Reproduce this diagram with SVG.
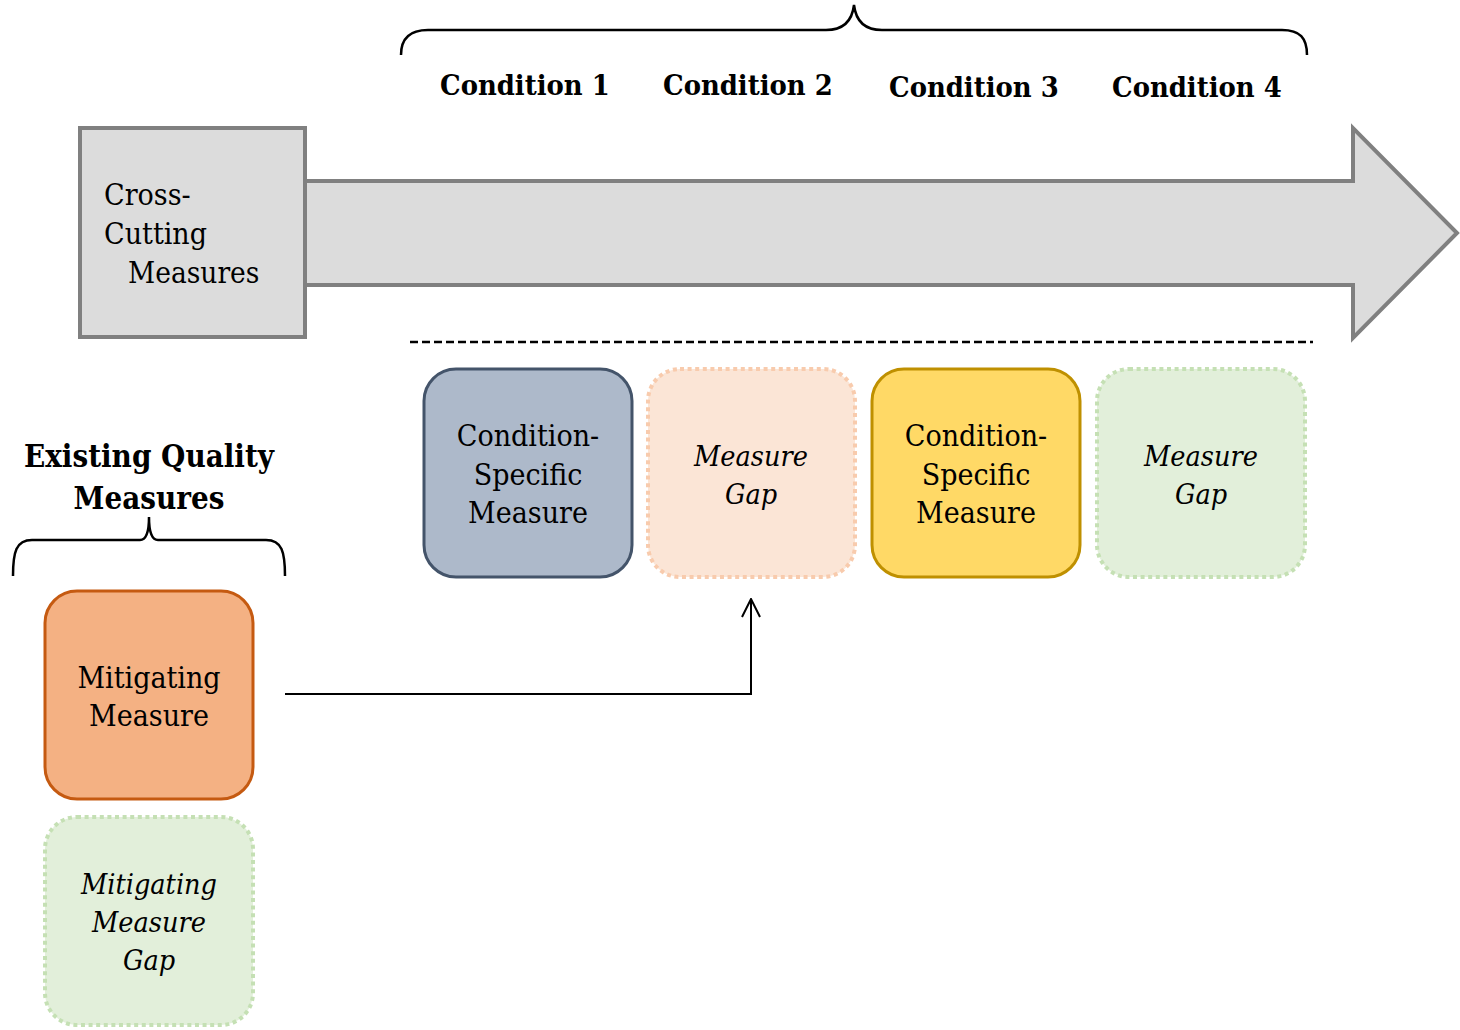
<svg xmlns="http://www.w3.org/2000/svg" width="1460" height="1030" viewBox="0 0 1460 1030">
<style>
.t{font-family:"DejaVu Serif Condensed","DejaVu Serif",serif;font-stretch:condensed;font-size:30px;fill:#000}
.c{text-anchor:middle}
.i{font-style:italic;font-size:28.5px}
.b{font-weight:bold;font-size:28.8px}
.h{font-weight:bold;font-size:31px}
.box{stroke-width:3}
.dot{stroke-width:4;stroke-dasharray:4 3.6}
</style>
<defs>
<marker id="open" viewBox="0 0 20 20" refX="19" refY="10" markerWidth="20" markerHeight="20" markerUnits="userSpaceOnUse" orient="auto">
<path d="M1,1 L19,10 L1,19" fill="none" stroke="#000" stroke-width="2"/>
</marker>
</defs>
<rect width="1460" height="1030" fill="#fff"/>
<g id="top-brace">
<path d="M401,55 C401,38 410,30 428,30 L826,30 C842,30 852,22 854,5 C856,22 866,30 882,30 L1282,30 C1300,30 1307,38 1307,55" fill="none" stroke="#000" stroke-width="2.5"/>
<text class="t b" x="440" y="95">Condition 1</text>
<text class="t b" x="663" y="95">Condition 2</text>
<text class="t b" x="889" y="97">Condition 3</text>
<text class="t b" x="1112" y="97">Condition 4</text>
</g>
<g id="timeline-arrow">
<path d="M305,181 L1353,181 L1353,128 L1457,233 L1353,338 L1353,285 L305,285 Z" fill="#dcdcdc" stroke="#808080" stroke-width="4"/>
</g>
<g id="cross-cutting">
<rect x="80" y="128" width="225" height="209" fill="#dcdcdc" stroke="#808080" stroke-width="4"/>
<text class="t" x="104" y="205">Cross-</text>
<text class="t" x="104" y="244">Cutting</text>
<text class="t" x="128" y="283" style="font-size:29.5px">Measures</text>
</g>
<g id="divider">
<line x1="410" y1="342" x2="1313" y2="342" stroke="#000" stroke-width="2.5" stroke-dasharray="8 4"/>
</g>
<g id="cond1-measure">
<rect class="box" x="424" y="369" width="208" height="208" rx="32" fill="#adb9ca" stroke="#44546a"/>
<text class="t c" x="528" y="446">Condition-</text>
<text class="t c" x="528" y="485">Specific</text>
<text class="t c" x="528" y="523">Measure</text>
</g>
<g id="cond2-gap">
<rect class="dot" x="648" y="369" width="207" height="208" rx="32" fill="#fbe5d6" stroke="#f8cbad"/>
<text class="t c i" x="751" y="466">Measure</text>
<text class="t c i" x="751" y="504">Gap</text>
</g>
<g id="cond3-measure">
<rect class="box" x="872" y="369" width="208" height="208" rx="32" fill="#ffd966" stroke="#bf9000"/>
<text class="t c" x="976" y="446">Condition-</text>
<text class="t c" x="976" y="485">Specific</text>
<text class="t c" x="976" y="523">Measure</text>
</g>
<g id="cond4-gap">
<rect class="dot" x="1097" y="369" width="208" height="208" rx="32" fill="#e2efda" stroke="#c5e0b4"/>
<text class="t c i" x="1201" y="466">Measure</text>
<text class="t c i" x="1201" y="504">Gap</text>
</g>
<g id="existing-quality">
<text class="t c h" x="149" y="467">Existing Quality</text>
<text class="t c h" x="149" y="509">Measures</text>
<path d="M13,576 C13,552 16,540 32,540 L140,540 C146,540 149,532 149,517 C149,532 152,540 158,540 L266,540 C282,540 285,552 285,576" fill="none" stroke="#000" stroke-width="2.5"/>
</g>
<g id="mitigating-measure">
<rect class="box" x="45" y="591" width="208" height="208" rx="32" fill="#f4b183" stroke="#c55a11"/>
<text class="t c" x="149" y="688">Mitigating</text>
<text class="t c" x="149" y="726">Measure</text>
</g>
<g id="mitigating-gap">
<rect class="dot" x="45" y="817" width="208" height="208" rx="32" fill="#e2efda" stroke="#c5e0b4"/>
<text class="t c i" x="149" y="894">Mitigating</text>
<text class="t c i" x="149" y="932">Measure</text>
<text class="t c i" x="149" y="970">Gap</text>
</g>
<g id="connectors">
<path d="M285,694 L751,694 L751,599" fill="none" stroke="#000" stroke-width="2" marker-end="url(#open)"/>
</g>
</svg>
